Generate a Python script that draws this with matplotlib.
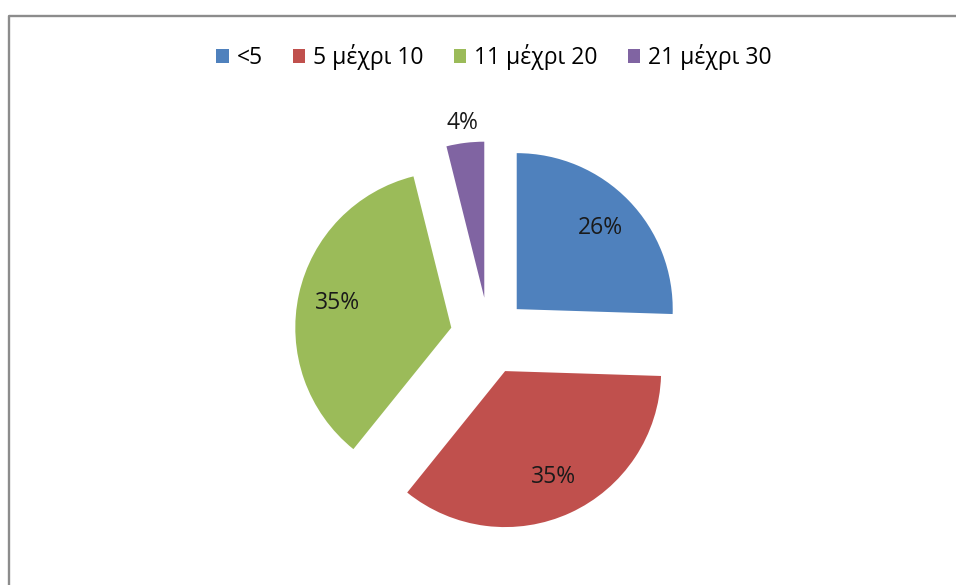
import matplotlib.pyplot as plt
import numpy as np

# legend labels, shares (percent) and the labels printed on the slices
labels = ['<5', '5 μέχρι 10', '11 μέχρι 20', '21 μέχρι 30']
shares = [25.5, 35.3, 35.3, 3.9]
pct_labels = ['26%', '35%', '35%', '4%']
colors = ['#4F81BD', '#C0504D', '#9BBB59', '#8064A2']

plt.rcParams['font.family'] = ['Open Sans', 'DejaVu Sans']

fig = plt.figure(figsize=(9.56, 5.85), dpi=100)
ax = fig.add_axes([0, 0, 1, 1])

wedges, texts, autotexts = ax.pie(
    shares, colors=colors, startangle=90, counterclock=False,
    explode=[38.6] * 4, radius=156, center=(489, 249),
    autopct='%1.0f%%', pctdistance=0.75,
    textprops={'fontsize': 16.5, 'color': '#1a1a1a'},
    wedgeprops={'linewidth': 0})

for t, s in zip(autotexts, pct_labels):
    t.set_text(s)

# the small slice has its label outside
w = wedges[3]
mid = np.deg2rad((w.theta1 + w.theta2) / 2)
autotexts[3].set_position((w.center[0] + 1.13 * w.r * np.cos(mid),
                           w.center[1] + 1.13 * w.r * np.sin(mid)))

ax.set_xlim(0, 956)
ax.set_ylim(0, 585)
ax.set_aspect('equal')
ax.axis('off')

# chart frame
ax.plot([9, 9, 960], [-5, 569, 569], color='#8c8c8c', lw=1.7, clip_on=False)

ax.legend(wedges, labels, loc='center', bbox_to_anchor=(494 / 956, 1 - 57 / 585),
          ncol=4, frameon=False, fontsize=16.5, handlelength=0.55, handleheight=0.55,
          handletextpad=0.35, columnspacing=1.3)

fig.savefig('out.png', dpi=100)
